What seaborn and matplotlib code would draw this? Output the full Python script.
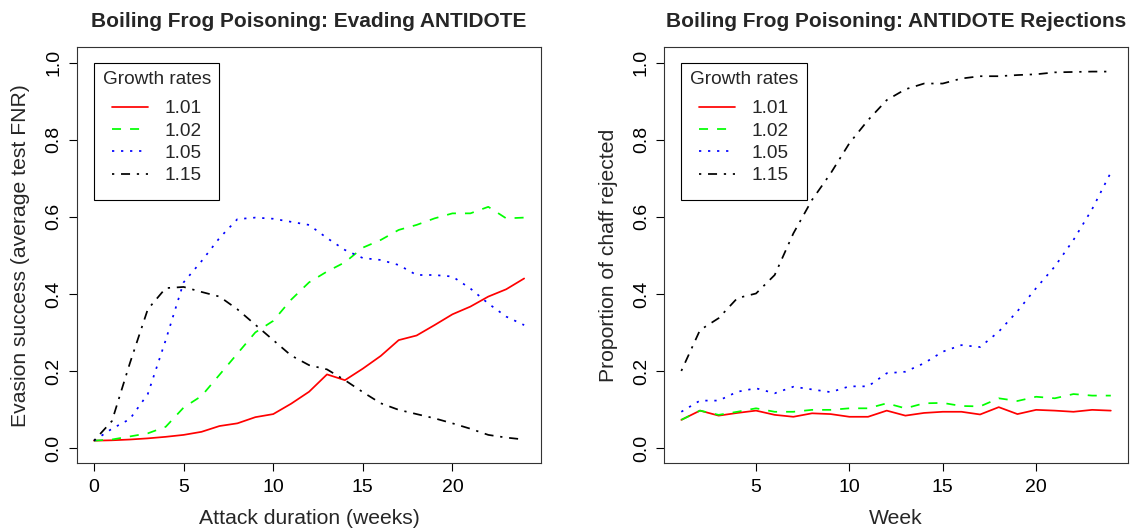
import numpy as np
import pandas as pd
import matplotlib
matplotlib.use("Agg")
import matplotlib.pyplot as plt
import seaborn as sns

# ---- data -------------------------------------------------------------
rates = ["1.01", "1.02", "1.05", "1.15"]

attack_weeks = list(range(0, 25))
evasion_101 = [0.019, 0.020, 0.022, 0.025, 0.029, 0.034, 0.042, 0.057, 0.064, 0.080,
               0.088, 0.115, 0.146, 0.191, 0.176, 0.206, 0.239, 0.280, 0.292, 0.319,
               0.347, 0.367, 0.393, 0.412, 0.440]
evasion_102 = [0.019, 0.022, 0.030, 0.038, 0.055, 0.105, 0.135, 0.190, 0.245, 0.300,
               0.330, 0.385, 0.430, 0.458, 0.482, 0.520, 0.540, 0.566, 0.579, 0.596,
               0.609, 0.609, 0.626, 0.596, 0.598]
evasion_105 = [0.019, 0.050, 0.075, 0.140, 0.280, 0.430, 0.485, 0.545, 0.594, 0.598,
               0.595, 0.587, 0.579, 0.545, 0.514, 0.493, 0.488, 0.475, 0.449, 0.449,
               0.445, 0.414, 0.375, 0.341, 0.319]
evasion_115 = [0.019, 0.070, 0.220, 0.360, 0.415, 0.418, 0.405, 0.393, 0.360, 0.320,
               0.280, 0.240, 0.215, 0.204, 0.176, 0.145, 0.116, 0.099, 0.088, 0.077,
               0.064, 0.050, 0.034, 0.027, 0.022]

reject_weeks = list(range(1, 25))
reject_101 = [0.073, 0.097, 0.084, 0.091, 0.097, 0.086, 0.081, 0.090, 0.088, 0.081,
              0.081, 0.097, 0.084, 0.091, 0.094, 0.094, 0.087, 0.106, 0.088, 0.099,
              0.097, 0.094, 0.099, 0.097]
reject_102 = [0.073, 0.097, 0.086, 0.094, 0.103, 0.094, 0.094, 0.099, 0.099, 0.103,
              0.103, 0.116, 0.103, 0.116, 0.117, 0.109, 0.108, 0.129, 0.122, 0.133,
              0.129, 0.140, 0.136, 0.136]
reject_105 = [0.094, 0.123, 0.123, 0.146, 0.155, 0.142, 0.159, 0.152, 0.145, 0.160,
              0.160, 0.194, 0.198, 0.220, 0.250, 0.267, 0.262, 0.302, 0.355, 0.415,
              0.471, 0.540, 0.620, 0.715]
reject_115 = [0.200, 0.306, 0.337, 0.389, 0.401, 0.449, 0.557, 0.644, 0.713, 0.791,
              0.851, 0.903, 0.931, 0.946, 0.946, 0.959, 0.965, 0.965, 0.968, 0.970,
              0.975, 0.976, 0.977, 0.977]

x_ticks_left = [0, 5, 10, 15, 20]
x_ticks_right = [5, 10, 15, 20]
y_ticks = [0.0, 0.2, 0.4, 0.6, 0.8, 1.0]
y_tick_labels = ["0.0", "0.2", "0.4", "0.6", "0.8", "1.0"]

# ---- long-form tables ---------------------------------------------------
def to_long(weeks, series):
    frames = []
    for rate, vals in zip(rates, series):
        frames.append(pd.DataFrame({"week": weeks, "value": vals, "rate": rate}))
    return pd.concat(frames, ignore_index=True)

evasion_df = to_long(attack_weeks, [evasion_101, evasion_102, evasion_105, evasion_115])
reject_df = to_long(reject_weeks, [reject_101, reject_102, reject_105, reject_115])

# ---- style --------------------------------------------------------------
sns.set_theme(style="ticks")
plt.rcParams["font.family"] = ["Liberation Sans", "DejaVu Sans"]

palette = {"1.01": "#FF0000", "1.02": "#00FF00", "1.05": "#0000FF", "1.15": "#000000"}
LW = 1.25
dash_styles = {"1.01": "", "1.02": (5.2, 5.2), "1.05": (1.3, 3.9), "1.15": (1.3, 3.9, 5.2, 3.9)}

fig = plt.figure(figsize=(11.38, 5.31), dpi=100)
ax1 = fig.add_axes([0.0675, 0.1273, 0.4082, 0.7836])
ax2 = fig.add_axes([0.5836, 0.1273, 0.4076, 0.7836])

TICK_FS = 14
LABEL_FS = 15.2
TITLE_FS = 15
LEG_FS = 13.7


def draw_panel(ax, df, xticks, xlim, title, xlabel, ylabel):
    sns.lineplot(data=df, x="week", y="value", hue="rate", style="rate",
                 palette=palette, dashes=dash_styles, linewidth=LW,
                 ax=ax, legend=True)
    ax.set_xlim(*xlim)
    ax.set_ylim(-0.04, 1.04)
    ax.set_xticks(xticks)
    ax.set_yticks(y_ticks)
    ax.set_yticklabels(y_tick_labels, rotation=90, va="center")
    ax.tick_params(axis="both", length=5.8, width=0.8, color="black",
                   labelsize=TICK_FS, labelcolor="black")
    ax.tick_params(axis="x", pad=5.5)
    ax.tick_params(axis="y", pad=4.5)
    for sp in ax.spines.values():
        sp.set_visible(True)
        sp.set_color("#333333")
        sp.set_linewidth(0.8)
    ax.set_title(title, fontsize=TITLE_FS, fontweight="bold", pad=14.5)
    ax.set_xlabel(xlabel, fontsize=LABEL_FS, labelpad=9.5)
    ax.set_ylabel(ylabel, fontsize=LABEL_FS, labelpad=11)

    handles, labels = ax.get_legend_handles_labels()
    leg = ax.legend(handles, labels, title="Growth rates", loc="upper left",
                    bbox_to_anchor=(0.037, 0.963), borderaxespad=0,
                    fontsize=LEG_FS, title_fontsize=LEG_FS,
                    frameon=True, fancybox=False, framealpha=1,
                    edgecolor="black", borderpad=0.45, labelspacing=0.26,
                    handlelength=1.9, handletextpad=0.86)
    leg.get_frame().set_linewidth(0.8)
    leg._legend_handle_box.pad = 5
    for line in leg.get_lines():
        line.set_linewidth(LW)


draw_panel(ax1, evasion_df, x_ticks_left, (-0.96, 24.96),
           "Boiling Frog Poisoning: Evading ANTIDOTE",
           "Attack duration (weeks)",
           "Evasion success (average test FNR)")
draw_panel(ax2, reject_df, x_ticks_right, (0.08, 24.92),
           "Boiling Frog Poisoning: ANTIDOTE Rejections",
           "Week",
           "Proportion of chaff rejected")

fig.savefig("out.png", dpi=100, facecolor="white")
